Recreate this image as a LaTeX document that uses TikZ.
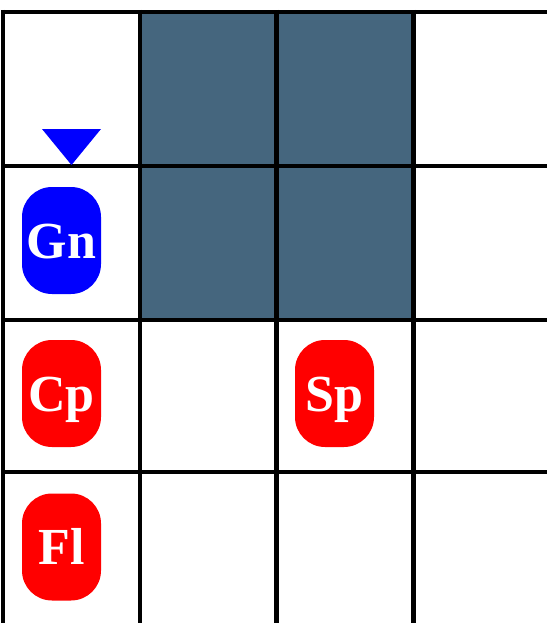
\documentclass[tikz,border=0pt]{standalone}
\usepackage{fontspec}
\setmainfont{Liberation Serif}
\definecolor{slate}{RGB}{69,102,126}
\definecolor{tokred}{RGB}{255,0,0}
\definecolor{tokblue}{RGB}{0,0,255}
\begin{document}
\begin{tikzpicture}[x=1pt,y=-1pt,
  token/.style={rounded corners=30pt, minimum width=79pt, minimum height=107pt,
    inner sep=0pt, text=white, text height=35pt, text depth=0pt,
    font=\bfseries\fontsize{52}{52}\selectfont},
  gridline/.style={line width=4.5pt, black}]
\useasboundingbox (0,0) rectangle (547,623);
\fill[white] (0,0) rectangle (547,623);
\fill[slate] (140,12) rectangle (413.5,320);
\foreach \gx in {3,140,276.5,413.5} \draw[gridline] (\gx,10) -- (\gx,623);
\foreach \gy in {12,166,320,472} \draw[gridline] (1,\gy) -- (547,\gy);
\fill[tokblue] (42,129) -- (101,129) -- (71.5,165) -- cycle;
\node[token, fill=tokblue] (gn) at (61.5,240.5) {Gn};
\node[token, fill=tokred] (cp) at (61.5,393.5) {Cp};
\node[token, fill=tokred] (sp) at (334.5,393.5) {Sp};
\node[token, fill=tokred] (fl) at (61.5,547) {Fl};
\end{tikzpicture}
\end{document}
